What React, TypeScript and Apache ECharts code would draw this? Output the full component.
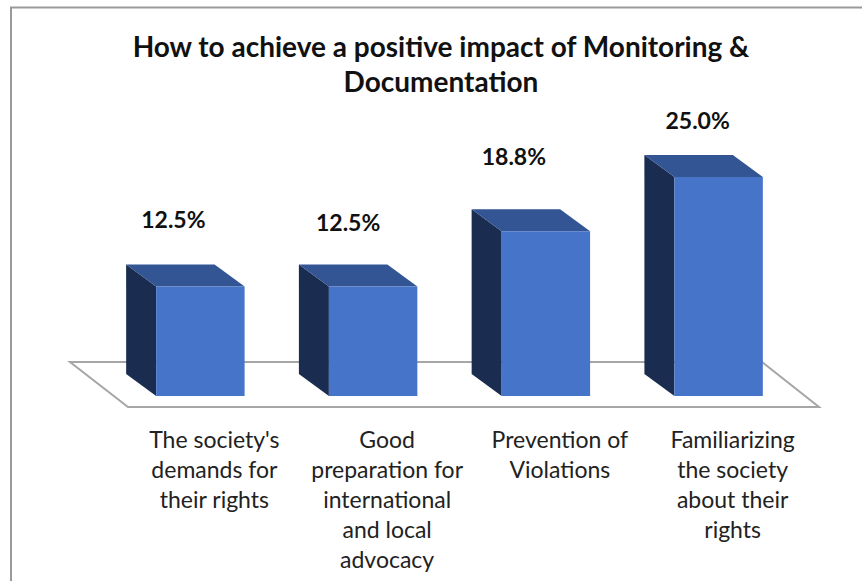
import React, { useEffect, useRef } from "react";
import * as echarts from "echarts";

const titleText = "How to achieve a positive impact of Monitoring &\nDocumentation";
const categories = [
  "The society's\ndemands for\ntheir rights",
  "Good\npreparation for\ninternational\nand local\nadvocacy",
  "Prevention of\nViolations",
  "Familiarizing\nthe society\nabout their\nrights",
];
const values = [12.5, 12.5, 18.8, 25.0];
const valueLabels = ["12.5%", "12.5%", "18.8%", "25.0%"];
const labelShiftX = [-27, -25, -32, -21];
const labelShiftY = [-46, -43, -53, -35];

const FONT = "Lato, 'Noto Sans', sans-serif";
const DEPTH_X = 30;
const DEPTH_Y = 22;
const SKEW = 14;

function renderBar(params: any, api: any) {
  const i = api.value(0);
  const v = api.value(1);
  const c = api.coord([i, v]);
  const b = api.coord([i, 0]);
  const w = api.size([1, 0])[0] * 0.512;
  const l = c[0] - SKEW - w / 2;
  const r = l + w;
  const t = c[1];
  const bot = b[1];
  return {
    type: "group",
    children: [
      {
        type: "polygon",
        shape: { points: [[l, t], [l - DEPTH_X, t - DEPTH_Y], [l - DEPTH_X, bot - DEPTH_Y], [l, bot]] },
        style: { fill: "#1a2d50" },
      },
      {
        type: "polygon",
        shape: { points: [[l, t], [l - DEPTH_X, t - DEPTH_Y], [r - DEPTH_X, t - DEPTH_Y], [r, t]] },
        style: { fill: "#335593" },
      },
      {
        type: "rect",
        shape: { x: l, y: t, width: w, height: bot - t },
        style: { fill: "#4674c9" },
      },
      {
        type: "text",
        x: c[0] - SKEW + labelShiftX[params.dataIndex],
        y: t - DEPTH_Y + labelShiftY[params.dataIndex],
        style: {
          text: valueLabels[params.dataIndex],
          fill: "#111111",
          font: `bold 23px ${FONT}`,
          textAlign: "center",
          textVerticalAlign: "middle",
        },
      },
    ],
  };
}

export default function App() {
  const ref = useRef<HTMLDivElement>(null);
  useEffect(() => {
    document.body.style.margin = "0";
    document.body.style.background = "#ffffff";
    const chart = echarts.init(ref.current!, undefined, { renderer: "svg" });
    chart.setOption({
      animation: false,
      backgroundColor: "#ffffff",
      title: {
        text: titleText,
        left: 436,
        top: 23,
        textAlign: "center",
        textStyle: { fontFamily: FONT, fontWeight: "bold", fontSize: 28, lineHeight: 35, color: "#111111" },
      },
      grid: { left: 128, top: 177, width: 691, height: 219 },
      xAxis: {
        type: "category",
        data: categories,
        axisLine: { show: false },
        axisTick: { show: false },
        axisLabel: {
          interval: 0,
          margin: 28,
          fontFamily: FONT,
          fontSize: 23,
          lineHeight: 30,
          color: "#222222",
          align: "center",
          verticalAlign: "top",
        },
      },
      yAxis: { type: "value", min: 0, max: 25, show: false, splitLine: { show: false } },
      graphic: [
        {
          type: "polyline",
          shape: { points: [[11, 581], [11, 7.5], [862, 7.5]] },
          style: { stroke: "#9a9a9a", lineWidth: 2, fill: "none" },
          z: 0,
        },
        {
          type: "polygon",
          shape: { points: [[70, 362], [762, 362], [819, 407], [128, 407]] },
          style: { stroke: "#a6a6a6", lineWidth: 2, fill: "#ffffff" },
          z: 0,
        },
      ],
      series: [
        {
          type: "custom",
          renderItem: renderBar,
          data: values.map((v, i) => [i, v]),
          encode: { x: 0, y: 1 },
          clip: false,
          z: 5,
        },
      ],
    });
    return () => chart.dispose();
  }, []);
  return <div ref={ref} style={{ width: 862, height: 581 }} />;
}
